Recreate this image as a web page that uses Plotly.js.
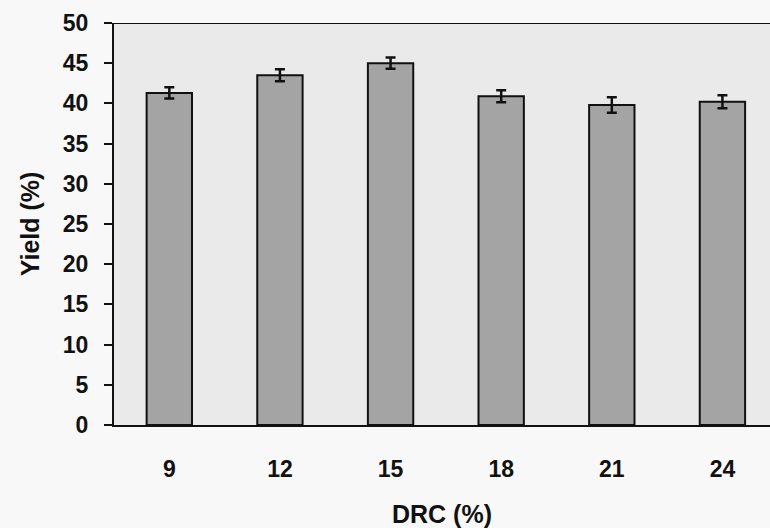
<!DOCTYPE html>
<html>
<head>
<meta charset="utf-8">
<script src="https://cdn.plot.ly/plotly-3.0.1.min.js"></script>
<style>
  html, body { margin: 0; padding: 0; background: #f8f8f8; }
  #chart { width: 770px; height: 528px; }
</style>
</head>
<body>
<div id="chart"></div>
<script>
// Yield of the product at each dry rubber content (DRC) level
const drcLabels = ['9', '12', '15', '18', '21', '24'];
const yieldPct = [41.3, 43.5, 45.0, 40.9, 39.8, 40.2];
const yieldErr = [0.7, 0.75, 0.7, 0.75, 0.95, 0.8];
const yTicks = [0, 5, 10, 15, 20, 25, 30, 35, 40, 45, 50];

const FAMILY = 'Liberation Sans, Arial, sans-serif';
const tickFont = { family: FAMILY, size: 23, color: '#111', weight: 'bold' };
const titleFont = { family: FAMILY, size: 25, color: '#111', weight: 'bold' };

const trace = {
  type: 'bar',
  x: drcLabels,
  y: yieldPct,
  width: 0.41,
  marker: { color: '#a4a4a4', line: { color: '#111', width: 2 } },
  error_y: { type: 'data', array: yieldErr, visible: true, color: '#111', thickness: 2.5, width: 5 },
  hoverinfo: 'x+y'
};

const layout = {
  width: 770,
  height: 528,
  margin: { l: 114, r: 0, t: 23, b: 103 },
  paper_bgcolor: '#f8f8f8',
  plot_bgcolor: '#eaeaea',
  showlegend: false,
  bargap: 0,
  xaxis: {
    type: 'category',
    range: [-0.5, 5.43],
    showline: true,
    linecolor: '#111',
    linewidth: 2,
    ticks: '',
    showgrid: false,
    zeroline: false,
    tickfont: tickFont,
    ticklabelstandoff: 22,
    title: { text: 'DRC (%)', font: titleFont, standoff: 25 }
  },
  yaxis: {
    range: [0, 50],
    tickvals: yTicks,
    showline: true,
    linecolor: '#111',
    linewidth: 2,
    ticks: 'outside',
    ticklen: 8,
    tickwidth: 2,
    tickcolor: '#111',
    showgrid: false,
    zeroline: false,
    tickfont: tickFont,
    ticklabelstandoff: 11,
    title: { text: 'Yield (%)', font: titleFont, standoff: 16 }
  },
  shapes: [
    { type: 'line', xref: 'paper', yref: 'y', x0: 0, x1: 1, y0: 50, y1: 50, line: { color: '#111', width: 2 } }
  ]
};

Plotly.newPlot('chart', [trace], layout, { displayModeBar: false, staticPlot: true });
</script>
</body>
</html>
